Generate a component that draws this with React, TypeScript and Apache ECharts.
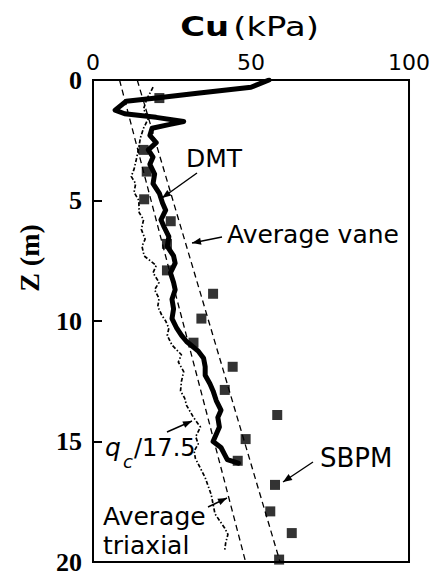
import React, { useEffect, useRef } from "react";
import * as echarts from "echarts";

// Axis definitions
const cuTicks = [0, 50, 100];
const depthTicks = [0, 5, 10, 15, 20];

// DMT profile: [Cu (kPa), Z (m)]
const dmtCu = [55.7, 50, 33, 20, 10.5, 7, 10, 20, 28.7, 24, 18.7, 18, 20, 17.5, 19, 18, 19.5, 19, 21, 22, 23, 21.5, 22.5, 24, 23.5, 25.5, 26, 24.5, 25.5, 26, 25, 25.5, 25, 26.5, 28, 29.6, 33.3, 35, 35.5, 35.5, 37, 38, 39, 40.5, 39.5, 40, 39, 38, 40.5, 41.5, 42.5, 46];
const dmtZ = [0, 0.3, 0.55, 0.75, 0.88, 1.25, 1.4, 1.55, 1.72, 1.85, 2.0, 2.3, 2.6, 2.9, 3.2, 3.5, 3.9, 4.3, 4.7, 5.1, 5.4, 5.8, 6.1, 6.5, 6.9, 7.3, 7.6, 8.0, 8.4, 8.7, 9.1, 9.5, 9.9, 10.3, 10.6, 10.85, 11.25, 11.55, 11.9, 12.25, 12.6, 12.9, 13.3, 13.7, 14.0, 14.4, 14.7, 15.0, 15.25, 15.5, 15.75, 15.9];

// qc/17.5 profile
const qcCu = [19, 17, 16, 17.5, 16, 15, 14.5, 13.7, 13, 12.1, 13.5, 13, 14.5, 14.6, 16, 15.3, 16.5, 15.5, 16.2, 20, 19, 20.9, 19.5, 20.9, 20.5, 21.8, 23, 24, 23.5, 25, 28, 27, 28.7, 28, 27.7, 29, 29.6, 31.8, 34, 32.5, 33.3, 32, 32.4, 35.5, 37.4, 38.6, 41.7, 42.7, 42, 41.7];
const qcZ = [0.3, 0.8, 1.2, 1.6, 2.0, 2.4, 2.8, 3.3, 3.7, 4.0, 4.3, 4.66, 5.0, 5.5, 5.8, 6.2, 6.6, 6.9, 7.3, 7.7, 8.0, 8.4, 8.7, 9.07, 9.4, 9.77, 10.0, 10.3, 10.6, 11.0, 11.4, 11.7, 12.1, 12.5, 12.9, 13.2, 13.5, 14.0, 14.4, 14.8, 15.1, 15.4, 15.7, 16.5, 17.2, 18.0, 18.6, 18.85, 19.2, 19.5];

// SBPM points
const sbpmCu = [21, 16, 17, 16.2, 24.6, 23.4, 23.4, 38, 34.3, 31.8, 44.2, 41.7, 58.3, 48.3, 45.8, 57.6, 56.1, 62.9, 58.9];
const sbpmZ = [0.75, 2.9, 3.8, 4.95, 5.86, 6.8, 7.9, 8.87, 9.9, 10.9, 11.9, 12.86, 13.9, 14.9, 15.8, 16.8, 17.9, 18.8, 19.9];

// Average lines
const vaneCu = [14, 59.2];
const vaneZ = [0, 20];
const triaxCu = [8.4, 48.3];
const triaxZ = [0, 20];

const zip = (a: number[], b: number[]) => a.map((v, i) => [v, b[i]]);

const SANS = "DejaVu Sans";
const SERIF = "Liberation Serif";

function arrow(x1: number, y1: number, x2: number, y2: number, head = true) {
  const els: any[] = [
    {
      type: "line",
      z: 100,
      shape: { x1, y1, x2, y2 },
      style: { stroke: "#000", lineWidth: 1.4 },
    },
  ];
  if (head) {
    const ang = Math.atan2(y2 - y1, x2 - x1);
    const L = 9;
    const W = 3.5;
    const bx = x2 - L * Math.cos(ang);
    const by = y2 - L * Math.sin(ang);
    const px = -Math.sin(ang) * W;
    const py = Math.cos(ang) * W;
    els.push({
      type: "polygon",
      z: 100,
      shape: {
        points: [
          [x2, y2],
          [bx + px, by + py],
          [bx - px, by - py],
        ],
      },
      style: { fill: "#000" },
    });
  }
  return els;
}

function label(text: string, x: number, y: number, extra: any = {}) {
  return {
    type: "text",
    z: 100,
    x,
    y,
    style: {
      text,
      fontFamily: SANS,
      fontSize: 25,
      fill: "#000",
      align: "left",
      verticalAlign: "middle",
      ...extra,
    },
  };
}

export default function App() {
  const ref = useRef<HTMLDivElement>(null);
  useEffect(() => {
    if (!ref.current) return;
    const chart = echarts.init(ref.current, undefined, { renderer: "svg" });
    const option: any = {
      animation: false,
      backgroundColor: "#fff",
      grid: {
        left: 93,
        top: 80,
        width: 321,
        height: 485,
        show: true,
        borderColor: "#000",
        borderWidth: 2,
        backgroundColor: "transparent",
      },
      xAxis: {
        type: "value",
        position: "top",
        min: cuTicks[0],
        max: cuTicks[cuTicks.length - 1],
        interval: cuTicks[1] - cuTicks[0],
        axisLine: { show: true, lineStyle: { color: "#000", width: 2 } },
        axisTick: { show: false },
        splitLine: { show: false },
        axisLabel: {
          color: "#000",
          fontFamily: SANS,
          fontSize: 22,
          margin: 7,
          showMinLabel: true,
          showMaxLabel: true,
        },
      },
      yAxis: {
        type: "value",
        inverse: true,
        min: depthTicks[0],
        max: depthTicks[depthTicks.length - 1],
        interval: depthTicks[1] - depthTicks[0],
        axisLine: { show: true, lineStyle: { color: "#000", width: 2 } },
        axisTick: { show: true, inside: true, length: 9, lineStyle: { color: "#000", width: 2 } },
        splitLine: { show: false },
        axisLabel: {
          color: "#000",
          fontFamily: SERIF,
          fontWeight: "bold",
          fontSize: 26,
          margin: 11,
          showMinLabel: true,
          showMaxLabel: true,
        },
      },
      series: [
        {
          type: "line",
          name: "Average triaxial",
          data: zip(triaxCu, triaxZ),
          symbol: "none",
          lineStyle: { color: "#000", width: 1.3, type: [6, 4] },
        },
        {
          type: "line",
          name: "Average vane",
          data: zip(vaneCu, vaneZ),
          symbol: "none",
          lineStyle: { color: "#000", width: 1.3, type: [6, 4] },
        },
        {
          type: "line",
          name: "qc/17.5",
          data: zip(qcCu, qcZ),
          symbol: "none",
          lineStyle: { color: "#000", width: 1.7, type: [4, 2, 1.5, 2] },
        },
        {
          type: "line",
          name: "DMT",
          data: zip(dmtCu, dmtZ),
          symbol: "none",
          lineStyle: { color: "#000", width: 5, join: "round", cap: "round" },
        },
        {
          type: "scatter",
          name: "SBPM",
          data: zip(sbpmCu, sbpmZ),
          symbol: "rect",
          symbolSize: 10,
          itemStyle: { color: "#000" },
        },
      ],
      graphic: [
        {
          type: "text",
          z: 100,
          x: 249.5,
          y: 27,
          scaleX: 1.3,
          originX: 0,
          originY: 0,
          style: {
            text: "{b|Cu} {n|(kPa)}",
            align: "center",
            verticalAlign: "middle",
            rich: {
              b: { fontFamily: SANS, fontWeight: "bold", fontSize: 26, fill: "#000" },
              n: { fontFamily: SANS, fontSize: 26, fill: "#000" },
            },
          },
        },
        {
          type: "text",
          z: 100,
          x: 29,
          y: 258,
          rotation: Math.PI / 2,
          style: {
            text: "Z (m)",
            fontFamily: SERIF,
            fontWeight: "bold",
            fontSize: 28,
            fill: "#000",
            align: "center",
            verticalAlign: "middle",
          },
        },
        label("DMT", 186, 158),
        label("Average vane", 227, 234),
        label("SBPM", 320, 458, { fontSize: 26 }),
        label("Average", 103, 516),
        label("triaxial", 103, 545),
        label("q", 105, 447, { fontStyle: "italic", fontSize: 25 }),
        label("c", 123, 461, { fontStyle: "italic", fontSize: 18 }),
        label("/17.5", 134, 448, { fontSize: 24 }),
        ...arrow(197, 173, 162, 198),
        ...arrow(222, 237, 192, 243),
        ...arrow(167, 432, 192, 421),
        ...arrow(313, 462, 283, 482),
        ...arrow(208, 507, 227, 498),
      ],
    };
    chart.setOption(option);
    return () => chart.dispose();
  }, []);
  return (
    <div
      ref={ref}
      style={{ position: "fixed", left: 0, top: 0, width: 433, height: 575, background: "#fff" }}
    />
  );
}
